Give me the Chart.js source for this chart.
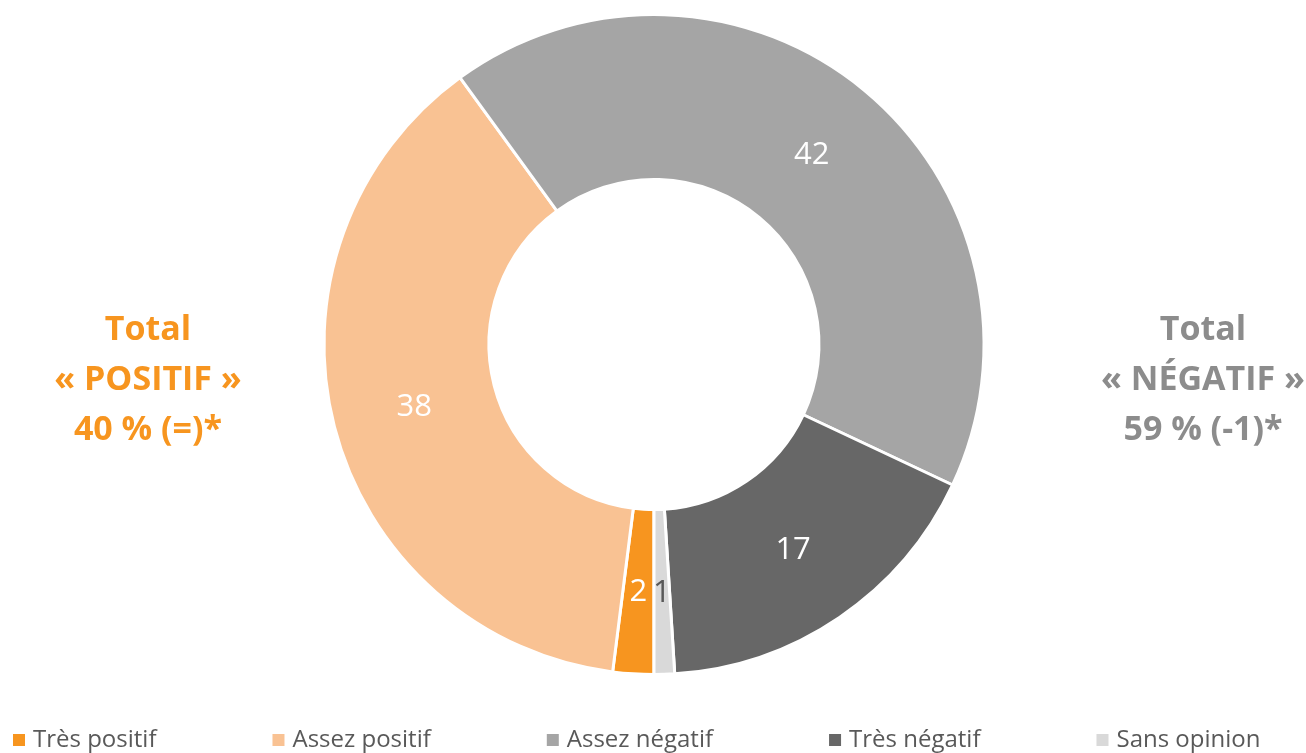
<!DOCTYPE html>
<html>
<head>
<meta charset="utf-8">
<script src="https://cdn.jsdelivr.net/npm/chart.js@4/dist/chart.umd.min.js"></script>
<style>
    html, body { margin: 0; padding: 0; background: #fff; }
</style>
</head>
<body>
<canvas id="opinionChart" width="1306" height="753"></canvas>
<script>
// Data
var categories = ['Très positif', 'Assez positif', 'Assez négatif', 'Très négatif', 'Sans opinion'];
var values = [2, 38, 42, 17, 1];
var sliceColors = ['#F7951F', '#F9C293', '#A5A5A5', '#676767', '#D9D9D9'];
var valueLabelColors = ['#FFFFFF', '#FFFFFF', '#FFFFFF', '#FFFFFF', '#595959'];
var positiveTotal = ['Total', '« POSITIF »', '40 % (=)*'];
var negativeTotal = ['Total', '« NÉGATIF »', '59 % (-1)*'];

var FONT = '"Open Sans", "Noto Sans", sans-serif';

// Value labels in the middle of every slice
var valueLabels = {
    id: 'valueLabels',
    afterDatasetsDraw: function (chart) {
        var ctx = chart.ctx;
        var meta = chart.getDatasetMeta(0);
        ctx.save();
        ctx.font = '31px ' + FONT;
        ctx.textAlign = 'center';
        ctx.textBaseline = 'middle';
        meta.data.forEach(function (arc, i) {
            var p = arc.tooltipPosition();
            ctx.fillStyle = valueLabelColors[i];
            ctx.fillText(String(values[i]), p.x, p.y + 1);
        });
        ctx.restore();
    }
};

// Totals on both sides of the doughnut
var sideTotals = {
    id: 'sideTotals',
    afterDraw: function (chart) {
        var ctx = chart.ctx;
        ctx.save();
        ctx.font = 'bold 34px ' + FONT;
        ctx.textAlign = 'center';
        ctx.textBaseline = 'middle';
        ctx.fillStyle = '#F7951F';
        positiveTotal.forEach(function (line, i) {
            ctx.fillText(line, 148, 330 + i * 50);
        });
        ctx.fillStyle = '#8C8C8C';
        negativeTotal.forEach(function (line, i) {
            ctx.fillText(line, 1203, 330 + i * 50);
        });
        ctx.restore();
    }
};

// Legend row with wide gaps, like the original
var wideLegend = {
    id: 'wideLegend',
    afterDraw: function (chart) {
        var ctx = chart.ctx;
        var box = 12, boxGap = 8, gap = 116, y = 740;
        var x = 13;
        ctx.save();
        ctx.font = '24px ' + FONT;
        ctx.textBaseline = 'middle';
        categories.forEach(function (c, i) {
            var w = ctx.measureText(c).width;
            ctx.fillStyle = sliceColors[i];
            ctx.fillRect(x, y - box / 2, box, box);
            ctx.fillStyle = '#595959';
            ctx.fillText(c, x + box + boxGap, y);
            x += box + boxGap + w + gap;
        });
        ctx.restore();
    }
};

var ctx = document.getElementById('opinionChart').getContext('2d');
var opinionChart = new Chart(ctx, {
    type: 'doughnut',
    data: {
        labels: categories,
        datasets: [{
            data: values,
            backgroundColor: sliceColors,
            borderColor: '#FFFFFF',
            borderWidth: 3,
            hoverBorderWidth: 3
        }]
    },
    options: {
        responsive: false,
        animation: false,
        rotation: 180,
        cutout: '50%',
        layout: {
            padding: { top: 13, bottom: 77, left: 2, right: 0 }
        },
        plugins: {
            legend: { display: false },
            tooltip: { enabled: false }
        }
    },
    plugins: [valueLabels, sideTotals, wideLegend]
});
</script>
</body>
</html>
